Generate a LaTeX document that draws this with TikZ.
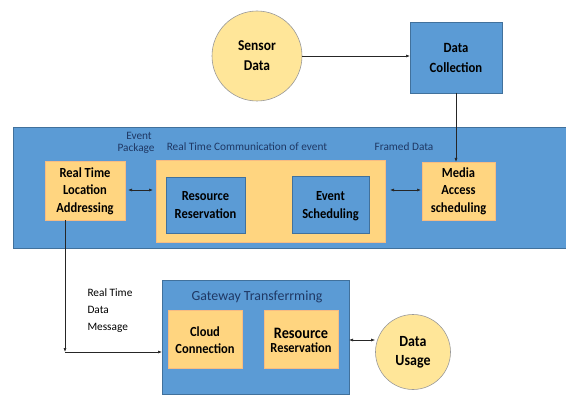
\documentclass[tikz,border=0pt]{standalone}
\usepackage{fontspec}
\setmainfont{Carlito}
\newfontfamily\narrowfont{Carlito}[FakeStretch=0.9]
\usetikzlibrary{arrows.meta}
\definecolor{bblue}{HTML}{5B9BD5}
\definecolor{bborder}{HTML}{41719C}
\definecolor{ybox}{HTML}{FFD580}
\definecolor{yborder}{HTML}{F4B183}
\definecolor{ycirc}{HTML}{FFE699}
\definecolor{navy}{HTML}{1F3864}
\tikzset{
  bluebox/.style={draw=bborder, fill=bblue, line width=0.6pt},
  yellowbox/.style={draw=yborder!70!ybox, fill=ybox, line width=0.6pt},
  circ/.style={circle, draw=gray!80, fill=ycirc, line width=0.6pt, align=center, font=\narrowfont\bfseries\fontsize{15}{20}\selectfont, inner sep=0pt},
  lbl/.style={align=center, font=\narrowfont\bfseries\fontsize{13.9}{17.5}\selectfont, text=black},
  note/.style={font=\fontsize{11.3}{15}\selectfont, text=navy},
  conn/.style={-{Latex[length=4pt,width=3pt]}, line width=0.6pt, black!85},
  dconn/.style={{Latex[length=4pt,width=3pt]}-{Latex[length=4pt,width=3pt]}, line width=0.6pt, black!85},
}
\begin{document}
\begin{tikzpicture}[x=1pt,y=-1pt]
\useasboundingbox (0,0) rectangle (566,396);
% top
\node[circ, minimum size=90pt] (sensor) at (257,56) {Sensor\\Data};
\draw[bluebox] (410,22) rectangle (502,93);
\node[lbl, font=\narrowfont\bfseries\fontsize{14.1}{20}\selectfont] (dc) at (456,57.5) {Data\\Collection};
\coordinate (dcb) at (456,93);
% band
\draw[bluebox] (13,127) rectangle (566,248);
\draw[yellowbox] (45,161) rectangle (125,220);
\node[lbl] (rtla) at (85,191) {Real Time\\Location\\Addressing};
\coordinate (rtlaR) at (125,190);
\coordinate (rtlaB) at (65,220);
\draw[yellowbox] (156,160) rectangle (385,242);
\coordinate (ymL) at (156,190);
\coordinate (ymR) at (385,190);
\draw[bluebox] (166,177) rectangle (245,233);
\node[lbl] (rr1) at (205.5,205) {Resource\\Reservation};
\draw[bluebox] (292,176) rectangle (369,233);
\node[lbl] (es) at (330.5,206) {Event\\Scheduling};
\draw[yellowbox] (422,162) rectangle (495,220);
\node[lbl] (mas) at (458.5,191) {Media\\Access\\scheduling};
\coordinate (masL) at (422,190);
\coordinate (masT) at (456,162);
\node[note, align=center, font=\fontsize{11.3}{11.5}\selectfont] (ep) at (136,143) {\hspace*{6pt}Event\\Package};
\node[note] (rtc) at (247,147) {Real Time Communication of event};
\node[note] (fd) at (404,147) {Framed Data};
% bottom
\draw[bluebox] (162,280) rectangle (349,394);
\node[font=\fontsize{13.9}{16}\selectfont, text=navy] (gw) at (257,297) {Gateway Transferrming};
\draw[yellowbox] (168,310) rectangle (242,368);
\node[lbl] (cc) at (205,340) {Cloud\\Connection};
\draw[yellowbox] (264,310) rectangle (338,368);
\node[align=center] (rr2) at (301,340) {{\narrowfont\bfseries\fontsize{15.9}{19}\selectfont Resource}\\[2pt]{\narrowfont\fontsize{13.8}{19}\selectfont\bfseries Reservation}};
\coordinate (gwL) at (162,352);
\coordinate (gwR) at (349,340);
\node[circ, minimum size=75pt, font=\narrowfont\bfseries\fontsize{15.5}{19}\selectfont] (usage) at (413,352) {Data\\Usage};
\node[align=left, anchor=north west, font=\fontsize{11.3}{17}\selectfont] (rtdm) at (84,285) {Real Time\\Data\\Message};
\coordinate (corner) at (65,352);
% connectors
\draw[conn] (sensor.east) -- (410,56);
\draw[conn] (dcb) -- (masT);
\draw[dconn] ([xshift=3pt]rtlaR) -- ([xshift=-3pt]ymL);
\draw[dconn] ([xshift=5pt]ymR) -- ([xshift=-1pt]masL);
\draw[conn] (rtlaB) -- (corner);
\draw[conn] (corner) -- (gwL);
\draw[dconn] (gwR) -- (usage.west |- gwR);
\end{tikzpicture}
\end{document}
